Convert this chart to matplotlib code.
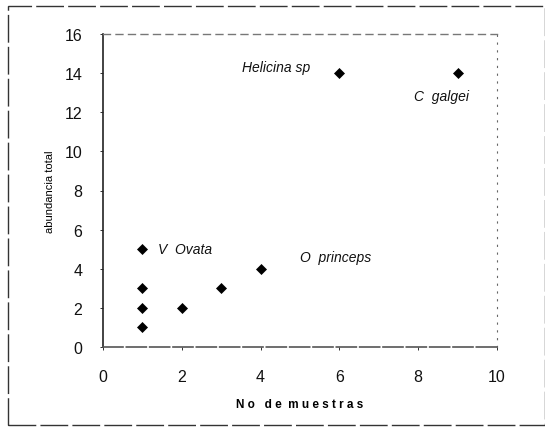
import matplotlib
matplotlib.use("Agg")
import matplotlib.pyplot as plt
from matplotlib.patches import Rectangle

# Data
muestras = [1, 1, 1, 1, 2, 3, 4, 6, 9]
abundancia = [1, 2, 3, 5, 2, 3, 4, 14, 14]
etiquetas = ["Helicina sp", "C  galgei", "V  Ovata", "O  princeps"]
etiq_x = [5.25, 7.9, 1.4, 5.0]
etiq_y = [14.3, 12.85, 5.0, 4.6]
etiq_ha = ["right", "left", "left", "left"]
xticks = [0, 2, 4, 6, 8, 10]
yticks = [0, 2, 4, 6, 8, 10, 12, 14, 16]

fig = plt.figure(figsize=(5.45, 4.35), dpi=100)
ax = fig.add_axes([103/545, 1-348/435, (497-103)/545, (348-35)/435])

ax.plot(muestras, abundancia, linestyle="none", marker="D", markersize=5.5,
        markerfacecolor="black", markeredgecolor="black", markeredgewidth=0.5,
        zorder=3)

for t, x, y, ha in zip(etiquetas, etiq_x, etiq_y, etiq_ha):
    ax.text(x, y, t, ha=ha, va="center", fontsize=10, style="italic",
            family="Liberation Sans", color="#111111")

ax.set_xlim(0, 10)
ax.set_ylim(0, 16)
ax.set_xticks(xticks)
ax.set_yticks(yticks)
ax.tick_params(labelsize=11.5, length=2, width=0.6, colors="#111111")
ax.tick_params(axis="x", pad=14)
ax.tick_params(axis="y", pad=13)
for lab in ax.get_xticklabels() + ax.get_yticklabels():
    lab.set_family("Liberation Sans")

ax.spines["left"].set_linewidth(1.2)
ax.spines["left"].set_color("#222222")
ax.spines["bottom"].set_linestyle((0, (12, 2)))
ax.spines["bottom"].set_color("#555555")
ax.spines["bottom"].set_linewidth(1.2)
ax.spines["top"].set_linestyle((0, (5, 4)))
ax.spines["top"].set_color("#777777")
ax.spines["top"].set_linewidth(1.0)
ax.spines["right"].set_linestyle((0, (1, 6)))
ax.spines["right"].set_color("#666666")
ax.spines["right"].set_linewidth(0.8)

ax.set_xlabel("N o   d e  m u e s t r a s", fontsize=8.5, fontweight="bold",
              family="Liberation Sans", labelpad=10)
ax.set_ylabel("abundancia total", fontsize=8, family="Liberation Sans", labelpad=7)

fig.patches.append(Rectangle((8/545, 0.02), 1 - 8/545, 1 - 7/435 - 0.02,
                             transform=fig.transFigure, fill=False,
                             edgecolor="#333333", linewidth=1.0,
                             linestyle=(0, (20, 3))))

fig.savefig("out.png", dpi=100)
